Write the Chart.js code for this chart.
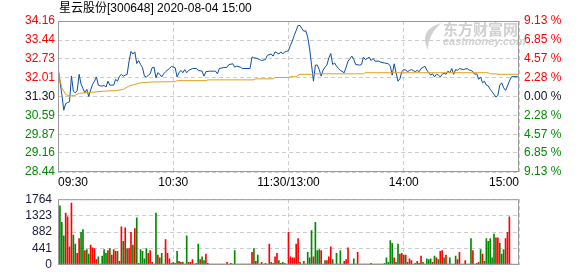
<!DOCTYPE html>
<html>
<head>
<meta charset="utf-8">
<script src="https://cdn.jsdelivr.net/npm/chart.js@4.4.0/dist/chart.umd.min.js"></script>
<style>
  html, body { margin: 0; padding: 0; background: #fff; }
  #wrap { position: relative; width: 578px; height: 276px; overflow: hidden; }
  canvas { position: absolute; left: 0; }
</style>
</head>
<body>
<div id="wrap">
  <canvas id="price" width="578" height="190" style="top:0"></canvas>
  <canvas id="volume" width="578" height="92" style="top:186px"></canvas>
</div>
<script>
const title = "星云股份[300648] 2020-08-04 15:00";
const timeTicks = [0, 60, 120, 180, 240];
const timeLabels = ["09:30", "10:30", "11:30/13:00", "14:00", "15:00"];
const priceTicks = [28.44, 29.16, 29.87, 30.59, 31.30, 32.01, 32.73, 33.44, 34.16];
const pctLabels = ["9.13 %", "6.85 %", "4.57 %", "2.28 %", "0.00 %", "2.28 %", "4.57 %", "6.85 %", "9.13 %"];
const volTicks = [0, 441, 882, 1323, 1764];

// minute index (0..240) and price
const priceMinute = [0,1,2,3,4,5,6,7,8,9,10,11,12,13,14,15,16,17,18,19,20,21,22,23,24,25,26,27,28,29,
  30,31,32,33,34,35,36,37,38,39,40,41,42,43,44,45,46,47,48,49,50,51,52,53,54,55,56,58,59,61,62,63,64,65,66,67,68,70,72,73,75,76,77,79,81,82,
  83,84,86,88,89,91,92,93,95,96,100,101,102,103,105,106,108,109,111,112,113,115,116,117,118,119,120,
  121,122,123,124,125,126,127,128,129,130,131,132,133,134,135,136,137,138,139,140,141,142,143,144,145,146,147,149,150,151,153,154,155,157,158,159,160,161,162,
  163,164,165,167,168,170,172,173,174,175,176,177,178,179,180,181,182,183,184,185,186,187,188,189,190,191,192,193,194,195,196,197,198,199,200,
  201,202,203,204,205,206,207,208,209,211,213,214,215,216,217,218,219,220,221,222,223,224,225,226,227,228,229,230,231,232,233,234,235,236,237,240];
const price = [32.42,31.88,31.38,30.78,31.03,31.07,31.10,32.07,31.50,31.44,31.53,32.14,31.77,31.60,31.44,31.57,31.30,31.55,31.76,31.88,32.04,31.73,31.70,31.70,31.72,31.66,31.88,31.73,31.73,31.73,
  31.95,31.88,32.07,32.14,32.07,32.11,32.14,32.64,33.01,32.91,32.99,32.55,32.66,32.51,32.39,32.07,32.04,32.10,32.16,32.39,32.41,32.01,32.20,32.14,32.04,32.16,32.24,32.36,32.44,32.39,32.04,32.20,32.29,32.20,32.32,32.20,32.29,32.36,32.36,32.29,32.26,32.07,32.24,32.26,32.26,32.26,
  32.16,32.36,32.39,32.41,32.51,32.54,32.41,32.45,32.41,32.36,32.36,32.80,32.76,32.76,32.70,32.66,32.70,32.86,32.91,32.83,32.99,32.91,32.99,32.91,32.99,33.01,33.04,
  33.24,33.40,33.62,33.80,33.99,33.99,33.87,33.77,33.79,33.55,33.10,32.50,31.88,32.49,32.49,32.32,32.07,32.30,32.41,32.49,32.76,32.93,32.51,32.57,32.45,32.36,32.29,32.20,32.41,32.64,32.83,32.70,32.51,32.49,32.51,32.79,32.70,32.74,32.79,
  32.66,32.74,32.64,32.64,32.60,32.57,32.54,32.45,32.11,32.54,32.20,31.88,31.97,32.25,32.32,32.30,32.24,32.29,32.32,32.28,32.24,32.29,32.24,32.36,32.40,32.45,32.30,32.20,32.11,32.16,32.04,32.14,32.11,32.04,32.14,
  32.18,32.14,32.26,32.20,32.36,32.14,32.32,32.29,32.36,32.32,32.36,32.30,32.29,32.24,32.14,32.16,31.95,32.04,31.82,31.88,31.73,31.70,31.57,31.48,31.38,31.28,31.34,31.73,31.82,31.63,31.53,31.70,31.88,32.04,32.06,32.04];

const avgMinute = [0,2,4,6,9,11,16,25,30,34,37,41,43,49,61,62,77,78,102,103,112,113,120,121,124,125,126,132,133,159,160,224,225,228,229,240];
const avgPrice = [32.25,31.63,31.38,31.31,31.35,31.42,31.45,31.51,31.52,31.57,31.70,31.78,31.82,31.85,31.86,31.90,31.90,31.93,31.93,31.97,31.97,32.02,32.02,32.05,32.05,32.11,32.14,32.14,32.16,32.16,32.20,32.20,32.16,32.16,32.14,32.14];

// one bar per minute
const volume = [0,1585,1144,776,1389,1291,482,1658,800,556,
  310,703,874,948,384,408,286,531,457,433,
  139,212,16,237,408,310,384,433,261,408,
  359,359,90,1021,629,997,433,433,874,531,
  972,1266,41,408,359,163,433,310,384,65,
  16,1389,261,188,310,16,678,310,163,41,
  65,41,359,90,65,65,16,776,65,65,
  139,16,41,556,139,212,114,286,41,16,
  16,16,16,16,16,16,16,16,65,16,
  41,16,384,16,16,16,16,16,16,16,
  16,335,433,90,261,16,65,16,41,16,
  556,65,41,212,310,114,41,65,41,16,
  874,212,188,188,556,703,65,16,90,16,
  335,188,923,212,1144,384,408,384,16,114,
  114,212,482,139,16,310,16,384,16,90,
  139,457,16,16,163,16,335,16,16,16,
  16,16,16,41,16,16,16,16,16,16,
  41,188,65,654,580,188,65,556,286,310,
  261,261,65,163,114,16,41,90,41,237,
  65,16,163,139,163,65,237,188,139,359,
  384,188,261,16,188,16,16,237,139,335,
  16,16,114,16,16,703,384,16,41,65,
  408,286,90,703,629,703,188,825,727,727,
  580,286,408,703,874,1291,16,0,0,0,
  605];
// r = up minute, g = down minute
const volDir = ("ggggrrrrgg" + "rrggrggrrr" + "rgrgggrgrr" + "rgrrgrgrrg" + "rgrggggrrr" +
  "rgrggrrrrr" + "gggrrgrgrr" + "rrggrggrrg" + "rgggrrrrrr" + "rrggrggggr" +
  "rrgrggrgrr" + "rggrrgrggr" + "rrrrrrggrg" + "gggrgggrrg" + "rrrgrgrggr" +
  "rrgggrrrgg" + "rgggrrgggg" + "gggggrggrr" + "grgrrggrgr" + "grgggrgrgr" +
  "rgrrgrggrr" + "ggrgggrggr" + "grggggggrr" + "gggrrrgggg" + "r").split("");

const RED = "#ff0000", GREEN = "#008a00", DARK = "#111122";
const GRID = "#cccccc";

Chart.defaults.font.family = "'Liberation Sans', Arial, 'Noto Sans CJK SC', sans-serif";
Chart.defaults.font.size = 12;
Chart.defaults.animation = false;

function priceColor(i) {
  return i < 4 ? GREEN : i > 4 ? RED : DARK;
}

const frame = {
  id: "frame",
  afterDraw(chart) {
    const { ctx, chartArea: a } = chart;
    ctx.save();
    ctx.strokeStyle = "#999999";
    ctx.lineWidth = 1;
    ctx.strokeRect(a.left + 0.5, a.top + 0.5, a.right - a.left - 1, a.bottom - a.top - 1);
    ctx.restore();
  }
};

const header = {
  id: "header",
  beforeDatasetsDraw(chart) {
    const ctx = chart.ctx;
    ctx.save();
    // watermark
    ctx.fillStyle = "#d0d0d0";
    ctx.beginPath();
    ctx.moveTo(441, 23);
    ctx.quadraticCurveTo(418, 30, 428, 50);
    ctx.quadraticCurveTo(427, 36, 441, 23);
    ctx.fill();
    ctx.textBaseline = "middle";
    ctx.font = "bold 15px 'Noto Sans CJK SC', sans-serif";
    ctx.fillText("东方财富网", 443, 29);
    ctx.font = "italic bold 11px 'Liberation Sans', Arial, sans-serif";
    ctx.fillText("eastmoney.com", 443, 42);
    ctx.restore();
  },
  afterDraw(chart) {
    const ctx = chart.ctx;
    ctx.save();
    ctx.fillStyle = "#000";
    ctx.textBaseline = "middle";
    ctx.font = "12px 'Liberation Sans', Arial, 'Noto Sans CJK SC', sans-serif";
    ctx.fillText(title, 59, 9);
    ctx.restore();
  }
};

new Chart(document.getElementById("price"), {
  type: "line",
  data: {
    datasets: [{
      data: avgMinute.map((m, i) => ({ x: m, y: avgPrice[i] })),
      borderColor: "#dfa01c",
      borderWidth: 1,
      pointRadius: 0,
      tension: 0
    }, {
      data: priceMinute.map((m, i) => ({ x: m, y: price[i] })),
      borderColor: "#0a4ea0",
      borderWidth: 1,
      pointRadius: 0,
      tension: 0
    }]
  },
  options: {
    responsive: false,
    devicePixelRatio: 1,
    layout: { padding: { top: 21, left: 0, right: 0, bottom: 0 } },
    plugins: { legend: { display: false }, tooltip: { enabled: false } },
    scales: {
      x: {
        type: "linear", min: 0, max: 240,
        afterFit: s => { s.height = 18; },
        afterBuildTicks: s => { s.ticks = timeTicks.map(v => ({ value: v })); },
        ticks: { autoSkip: false, maxRotation: 0, align: "inner", padding: 3, color: "#000",
          callback: (v, i) => timeLabels[i] },
        grid: { color: GRID, drawTicks: false },
        border: { display: false, dash: [4, 3] }
      },
      y: {
        type: "linear", position: "left", min: 28.44, max: 34.16,
        afterFit: s => { s.width = 58; },
        afterBuildTicks: s => { s.ticks = priceTicks.map(v => ({ value: v })); },
        ticks: { autoSkip: false, padding: 3, color: c => priceColor(c.index),
          callback: (v, i) => priceTicks[i].toFixed(2) },
        grid: { color: GRID, drawTicks: false },
        border: { display: false, dash: [4, 3] }
      },
      y2: {
        type: "linear", position: "right", min: 28.44, max: 34.16,
        afterFit: s => { s.width = 59; },
        afterBuildTicks: s => { s.ticks = priceTicks.map(v => ({ value: v })); },
        ticks: { autoSkip: false, padding: 5, color: c => priceColor(c.index),
          callback: (v, i) => pctLabels[i] },
        grid: { display: false, drawTicks: false },
        border: { display: false }
      }
    }
  },
  plugins: [header, frame]
});

new Chart(document.getElementById("volume"), {
  type: "bar",
  data: {
    datasets: [{
      data: volume.map((v, i) => ({ x: i, y: v })),
      backgroundColor: volDir.map(d => d === "r" ? RED : GREEN),
      barThickness: 1
    }]
  },
  options: {
    responsive: false,
    devicePixelRatio: 1,
    layout: { padding: { top: 11, left: 0, right: 59, bottom: 8 } },
    plugins: { legend: { display: false }, tooltip: { enabled: false } },
    scales: {
      x: {
        type: "linear", min: 0, max: 240, offset: false,
        afterFit: s => { s.height = 0; },
        afterBuildTicks: s => { s.ticks = timeTicks.map(v => ({ value: v })); },
        ticks: { display: false },
        grid: { color: GRID, drawTicks: false, offset: false },
        border: { display: false, dash: [4, 3] }
      },
      y: {
        type: "linear", position: "left", min: 0, max: 1764,
        afterFit: s => { s.width = 58; },
        afterBuildTicks: s => { s.ticks = volTicks.map(v => ({ value: v })); },
        ticks: { autoSkip: false, padding: 6, color: "#1b1b3a",
          callback: (v, i) => String(volTicks[i]) },
        grid: { color: GRID, drawTicks: false },
        border: { display: false, dash: [4, 3] }
      }
    }
  },
  plugins: [frame]
});
</script>
</body>
</html>
